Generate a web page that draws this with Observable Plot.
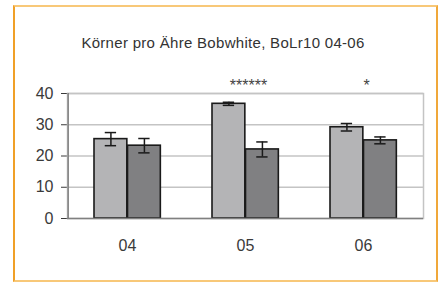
<!DOCTYPE html>
<html>
<head>
<meta charset="utf-8">
<script src="https://cdn.jsdelivr.net/npm/d3@7"></script>
<script src="https://cdn.jsdelivr.net/npm/@observablehq/plot@0.6"></script>
<style>
  html, body { margin: 0; padding: 0; background: #fff; }
  #wrap { position: relative; width: 440px; height: 282px; overflow: hidden; font-family: "Liberation Sans", Arial, sans-serif; }
  #frame { position: absolute; left: 13px; top: 5px; width: 421px; height: 273px;
           border-left: 2px solid #f0a028; border-top: 2px solid #f8c878; border-right: 2px solid #f0a83a; border-bottom: 2px solid #f8c878; }
  #title { position: absolute; left: 0; width: 446px; top: 34px; text-align: center; font-size: 15px; letter-spacing: 0.3px; color: #333; }
  #chart { position: absolute; left: 0; top: 0; }
</style>
</head>
<body>
<div id="wrap">
  <div id="frame"></div>
  <div id="title">Körner pro Ähre Bobwhite, BoLr10 04-06</div>
  <div id="chart"></div>
</div>
<script>
const years = ["04", "05", "06"];
const seriesA = [25.4, 36.7, 29.2];
const errA = [2.1, 0.5, 1.2];
const seriesB = [23.3, 22.1, 25.0];
const errB = [2.3, 2.4, 1.1];
const yTicks = [0, 10, 20, 30, 40];
const stars = [{year: "05", label: "******"}, {year: "06", label: "*"}];

const A = years.map((y, i) => ({year: y, v: seriesA[i], lo: seriesA[i] - errA[i], hi: seriesA[i] + errA[i]}));
const B = years.map((y, i) => ({year: y, v: seriesB[i], lo: seriesB[i] - errB[i], hi: seriesB[i] + errB[i]}));

const bw = 356 / 3;
const barW = 33.5;
const innerL = 26;           // gap from band start to first bar
const aL = innerL, aR = bw - innerL - barW;
const bL = innerL + barW, bR = bw - innerL - 2 * barW;
const capW = 12;
const aMid = innerL + barW / 2, bMid = innerL + barW * 1.5;
const ink = "#1a1a1a";

const chart = Plot.plot({
  width: 440,
  height: 282,
  marginLeft: 67,
  marginRight: 17,
  marginTop: 93,
  marginBottom: 64,
  style: {fontFamily: "'Liberation Sans', Arial, sans-serif", fontSize: "16px", color: "#3a3a3a", background: "transparent"},
  x: {domain: years, padding: 0, label: null, tickSize: 0, tickPadding: 21},
  y: {domain: [0, 40], ticks: yTicks, label: null, tickSize: 6, tickPadding: 8},
  marks: [
    Plot.ruleY(yTicks.filter(t => t > 0), {stroke: "#c4c4c4", strokeWidth: 1.5}),
    Plot.frame({stroke: "#c4c4c4", strokeWidth: 1.5}),
    Plot.ruleX([0], {x: () => years[0], dx: -bw / 2, stroke: "#808080", strokeWidth: 1.5}),
    Plot.barY(A, {x: "year", y: "v", fill: "#b4b4b6", stroke: ink, strokeWidth: 1.6, insetLeft: aL, insetRight: aR}),
    Plot.barY(B, {x: "year", y: "v", fill: "#808082", stroke: ink, strokeWidth: 1.6, insetLeft: bL, insetRight: bR}),
    Plot.ruleY([0], {stroke: "#808080", strokeWidth: 1.5}),
    Plot.ruleX(A, {x: "year", y1: "lo", y2: "hi", dx: aMid - bw / 2, stroke: ink, strokeWidth: 1.5}),
    Plot.tickY(A, {x: "year", y: "lo", stroke: ink, strokeWidth: 1.5, insetLeft: aMid - capW / 2, insetRight: bw - aMid - capW / 2}),
    Plot.tickY(A, {x: "year", y: "hi", stroke: ink, strokeWidth: 1.5, insetLeft: aMid - capW / 2, insetRight: bw - aMid - capW / 2}),
    Plot.ruleX(B, {x: "year", y1: "lo", y2: "hi", dx: bMid - bw / 2, stroke: ink, strokeWidth: 1.5}),
    Plot.tickY(B, {x: "year", y: "lo", stroke: ink, strokeWidth: 1.5, insetLeft: bMid - capW / 2, insetRight: bw - bMid - capW / 2}),
    Plot.tickY(B, {x: "year", y: "hi", stroke: ink, strokeWidth: 1.5, insetLeft: bMid - capW / 2, insetRight: bw - bMid - capW / 2}),
    Plot.text(stars, {x: "year", y: () => 40, text: "label", dx: 3, dy: -8, fontSize: 16, fill: "#444"})
  ]
});
document.getElementById("chart").appendChild(chart);
</script>
</body>
</html>
